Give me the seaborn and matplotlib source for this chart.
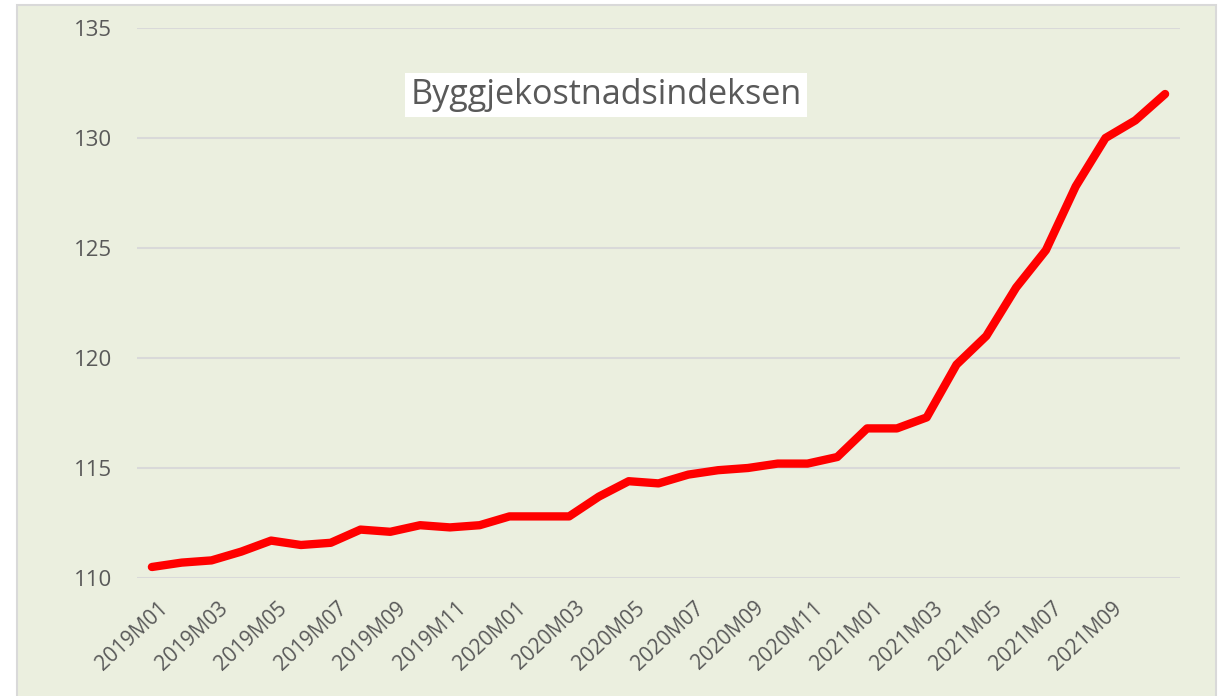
import numpy as np
import matplotlib
matplotlib.use("Agg")
import matplotlib.pyplot as plt
from matplotlib.patches import Rectangle
from matplotlib.transforms import ScaledTranslation
import seaborn as sns

# monthly index values, 2019M01 - 2021M11
months = [f"{y}M{m:02d}" for y in (2019, 2020, 2021) for m in range(1, 13)][:35]
index_values = [
    110.5, 110.7, 110.8, 111.2, 111.7, 111.5, 111.6, 112.2, 112.1, 112.4, 112.3, 112.4,
    112.8, 112.8, 112.8, 113.7, 114.4, 114.3, 114.7, 114.9, 115.0, 115.2, 115.2, 115.5,
    116.8, 116.8, 117.3, 119.7, 121.0, 123.2, 124.9, 127.8, 130.0, 130.8, 132.0,
]
y_ticks = [110, 115, 120, 125, 130, 135]
title = "Byggjekostnadsindeksen"

sns.set_theme(style="white")
plt.rcParams['font.family'] = ['Open Sans', 'DejaVu Sans']

text_color = '#595959'
bg_color = '#EBEFDF'

fig = plt.figure(figsize=(12.22, 6.96), dpi=100, facecolor='white')
# chart area background with light border
fig.patches.append(Rectangle((17 / 1222, -0.05), (1216 - 17) / 1222, 1.05 - 5 / 696,
                             transform=fig.transFigure, facecolor=bg_color,
                             edgecolor='#D9D9D9', linewidth=1.5, zorder=-5))

ax = fig.add_axes([137 / 1222, 1 - 578 / 696, (1180 - 137) / 1222, (578 - 28) / 696])
ax.set_facecolor('none')
ax.set_zorder(2)

x = np.arange(len(index_values))
sns.lineplot(x=x, y=index_values, ax=ax, color='#FF0000', linewidth=6,
             solid_capstyle='round', solid_joinstyle='round', zorder=3)

ax.set_xlim(-0.5, len(index_values) - 0.5)
ax.set_ylim(y_ticks[0], y_ticks[-1])
ax.set_yticks(y_ticks)
ax.set_yticklabels([str(v) for v in y_ticks], color=text_color, fontsize=16)
ax.tick_params(axis='y', length=0, pad=18)

shown = list(range(0, 33, 2))
ax.set_xticks(shown)
ax.set_xticklabels([months[i] for i in shown], rotation=43, ha='right', va='top',
                   rotation_mode='anchor', color=text_color, fontsize=15)
ax.tick_params(axis='x', length=0, pad=14)
shift = ScaledTranslation(6 / 100, 0, fig.dpi_scale_trans)
for lbl in ax.get_xticklabels():
    lbl.set_transform(lbl.get_transform() + shift)

ax.grid(axis='y', color='#D9D9D9', linewidth=1.5)
ax.grid(axis='x', visible=False)
for s in ax.spines.values():
    s.set_visible(False)
ax.set_xlabel('')
ax.set_ylabel('')

fig.text(606 / 1222, 1 - 95 / 696, title, ha='center', va='center',
         fontsize=24.6, color=text_color, zorder=5,
         bbox=dict(facecolor='white', edgecolor='none', pad=4))

fig.savefig('out.png', dpi=100, facecolor='white')
